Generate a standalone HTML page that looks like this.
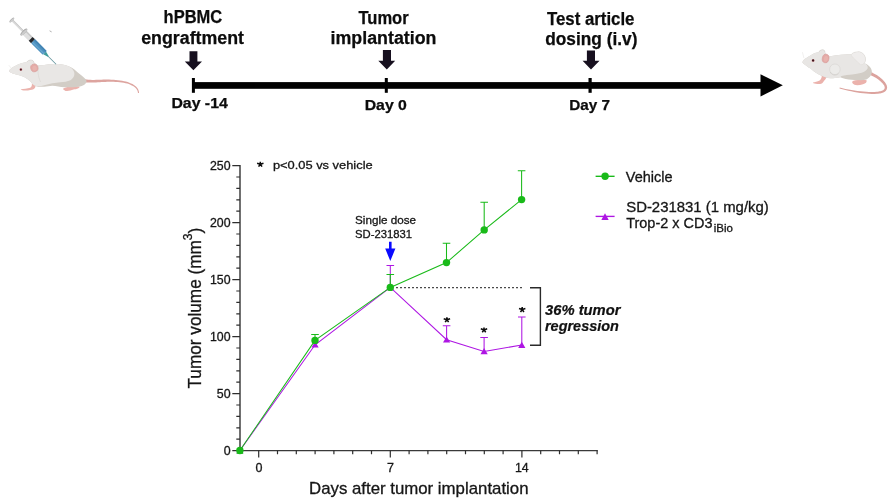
<!DOCTYPE html>
<html>
<head>
<meta charset="utf-8">
<title>Study design and tumor volume</title>
<style>
html,body{margin:0;padding:0;background:#fff;}
body{width:895px;height:504px;overflow:hidden;font-family:"Liberation Sans",sans-serif;}
svg{display:block;position:absolute;left:0;top:0;will-change:transform;opacity:0.999;}
text{font-family:"Liberation Sans",sans-serif;}
.tl{font-weight:bold;fill:#0c0c0c;stroke:#0c0c0c;stroke-width:0.25px;}
.ax{fill:#161616;stroke:#161616;stroke-width:0.3px;}
.bi{font-weight:bold;font-style:italic;fill:#111;stroke:#111;stroke-width:0.2px;}
</style>
</head>
<body>
<svg width="895" height="504" viewBox="0 0 895 504">
<rect width="895" height="504" fill="#fff"/>

<!-- ===== timeline ===== -->
<g id="timeline">
  <rect x="192" y="82.1" width="570" height="6.7" fill="#000"/>
  <polygon points="760.5,74.3 782.8,85.3 760.5,96.4" fill="#000"/>
  <rect x="191.9" y="78" width="3" height="14.8" fill="#000"/>
  <rect x="384.8" y="78" width="3" height="14.8" fill="#000"/>
  <rect x="588.5" y="78" width="3.2" height="14.8" fill="#000"/>
  <polygon points="189.5,51.2 197.4,51.2 197.4,61.4 202,61.4 193.4,70.2 184.8,61.4 189.5,61.4" fill="#17101f"/>
  <polygon points="382.9,50 391,50 391,60.7 395.2,60.7 386.8,69.5 378.3,60.7 382.9,60.7" fill="#17101f"/>
  <polygon points="586.9,50.5 595,50.5 595,60.7 599.5,60.7 591,69.5 582.6,60.7 586.9,60.7" fill="#17101f"/>
  <text class="tl" x="163.6" y="23.4" font-size="18" textLength="58.6" lengthAdjust="spacingAndGlyphs">hPBMC</text>
  <text class="tl" x="141.2" y="44.2" font-size="18" textLength="102.8" lengthAdjust="spacingAndGlyphs">engraftment</text>
  <text class="tl" x="358.4" y="23.5" font-size="18" textLength="50.3" lengthAdjust="spacingAndGlyphs">Tumor</text>
  <text class="tl" x="330.5" y="44.4" font-size="18" textLength="106" lengthAdjust="spacingAndGlyphs">implantation</text>
  <text class="tl" x="546.9" y="25" font-size="18" textLength="87.6" lengthAdjust="spacingAndGlyphs">Test article</text>
  <text class="tl" x="545.2" y="45.2" font-size="18" textLength="92.2" lengthAdjust="spacingAndGlyphs">dosing (i.v)</text>
  <text class="tl" x="171.4" y="108.2" font-size="14.5" textLength="56.4" lengthAdjust="spacingAndGlyphs">Day -14</text>
  <text class="tl" x="364.7" y="109.8" font-size="14.5" textLength="42.2" lengthAdjust="spacingAndGlyphs">Day 0</text>
  <text class="tl" x="569.3" y="109.8" font-size="14.5" textLength="40.8" lengthAdjust="spacingAndGlyphs">Day 7</text>
</g>

<!-- ===== chart ===== -->
<g id="chart">
  <g stroke="#3a3a3a" stroke-width="1.45" fill="none">
    <path d="M240,165 V451.2"/>
    <path d="M239.3,450.6 H597.8" stroke-width="1.3"/>
  </g>
  <g stroke="#2e2e2e" stroke-width="1.2" fill="none"><path d="M232.3,450.6 H240 M236.3,439.2 H240 M236.3,427.8 H240 M236.3,416.4 H240 M236.3,405.0 H240 M232.3,393.6 H240 M236.3,382.2 H240 M236.3,370.8 H240 M236.3,359.4 H240 M236.3,348.0 H240 M232.3,336.6 H240 M236.3,325.2 H240 M236.3,313.8 H240 M236.3,302.4 H240 M236.3,291.0 H240 M232.3,279.6 H240 M236.3,268.2 H240 M236.3,256.8 H240 M236.3,245.4 H240 M236.3,234.0 H240 M232.3,222.6 H240 M236.3,211.2 H240 M236.3,199.8 H240 M236.3,188.4 H240 M236.3,177.0 H240 M232.3,165.6 H240"/></g>
  <g stroke="#2e2e2e" stroke-width="1.2" fill="none"><path d="M258.7,450.6 V457.4 M277.5,450.6 V454.3 M296.3,450.6 V454.3 M315.1,450.6 V454.3 M333.9,450.6 V454.3 M352.7,450.6 V454.3 M371.5,450.6 V454.3 M390.3,450.6 V457.4 M409.1,450.6 V454.3 M427.9,450.6 V454.3 M446.7,450.6 V454.3 M465.5,450.6 V454.3 M484.3,450.6 V454.3 M503.1,450.6 V454.3 M521.9,450.6 V457.4 M540.7,450.6 V454.3 M559.5,450.6 V454.3 M578.3,450.6 V454.3 M597.1,450.6 V454.3"/></g>

  <g class="ax" font-size="12.5" text-anchor="end">
    <text x="230.6" y="169.9" textLength="20.6" lengthAdjust="spacingAndGlyphs">250</text>
    <text x="230.6" y="226.8" textLength="20.6" lengthAdjust="spacingAndGlyphs">200</text>
    <text x="230.6" y="283.7" textLength="20.6" lengthAdjust="spacingAndGlyphs">150</text>
    <text x="230.6" y="340.8" textLength="20.6" lengthAdjust="spacingAndGlyphs">100</text>
    <text x="230.6" y="397.8" textLength="13.8" lengthAdjust="spacingAndGlyphs">50</text>
    <text x="230.6" y="455.1" textLength="6.9" lengthAdjust="spacingAndGlyphs">0</text>
  </g>
  <g class="ax" font-size="12.5" text-anchor="middle">
    <text x="258.9" y="472.2">0</text>
    <text x="390.4" y="472.2">7</text>
    <text x="521.8" y="472.2" textLength="13.8" lengthAdjust="spacingAndGlyphs">14</text>
  </g>
  <text class="ax" x="309" y="494.2" font-size="16.4" textLength="219.5" lengthAdjust="spacingAndGlyphs">Days after tumor implantation</text>
  <text class="ax" transform="translate(201,388.5) rotate(-90)" font-size="17.6" textLength="160.8" lengthAdjust="spacingAndGlyphs">Tumor volume (mm<tspan font-size="12.4" dy="-8.6">3</tspan><tspan dy="8.6">)</tspan></text>

  <path d="M260.3,164.2 L260.30,161.70 M260.3,164.2 L263.49,163.16 M260.3,164.2 L262.03,166.59 M260.3,164.2 L258.57,166.59 M260.3,164.2 L257.11,163.16" stroke="#0d0d0d" stroke-width="1.55" fill="none"/>
  <text class="ax" x="272.9" y="169.2" font-size="11.6" textLength="99.8" lengthAdjust="spacingAndGlyphs">p&lt;0.05 vs vehicle</text>

  <text class="ax" x="355.1" y="224" font-size="11.2" textLength="60.9" lengthAdjust="spacingAndGlyphs">Single dose</text>
  <text class="ax" x="355.1" y="238.2" font-size="11.2" textLength="57" lengthAdjust="spacingAndGlyphs">SD-231831</text>
  <polygon points="389,241.7 391.6,241.7 391.6,248.6 395.4,248.6 390.3,261 385.2,248.6 389,248.6" fill="#0a0aff"/>

  <path d="M396,287.7 H523" stroke="#4a4a4a" stroke-width="1.2" stroke-dasharray="2 2" fill="none"/>
  <path d="M530,287.8 H540.4 V345.2 H530" stroke="#2a2a2a" stroke-width="1.4" fill="none"/>
  <text class="bi" x="545" y="314.6" font-size="14" textLength="75.5" lengthAdjust="spacingAndGlyphs">36% tumor</text>
  <text class="bi" x="545" y="331" font-size="14" textLength="73.9" lengthAdjust="spacingAndGlyphs">regression</text>

  <g stroke="#ae16e3" stroke-width="1.05" fill="none">
<polyline points="239.9,450.5 315.1,344.8 390.3,287.4 446.6,339.7 484.1,351.4 521.8,345.1"/>
<path d="M390.3,287.4 V265.5 M386.5,265.5 h7.6"/>
<path d="M446.6,339.7 V325.7 M442.8,325.7 h7.6"/>
<path d="M484.1,351.4 V337.5 M480.3,337.5 h7.6"/>
<path d="M521.8,345.1 V316.9 M518.0,316.9 h7.6"/>
</g>
<g fill="#ae16e3">
<polygon points="239.9,447.2 243.5,453.3 236.3,453.3"/>
<polygon points="315.1,341.5 318.7,347.6 311.5,347.6"/>
<polygon points="390.3,284.1 393.9,290.2 386.7,290.2"/>
<polygon points="446.6,336.4 450.2,342.5 443.0,342.5"/>
<polygon points="484.1,348.1 487.7,354.2 480.5,354.2"/>
<polygon points="521.8,341.8 525.4,347.9 518.2,347.9"/>
</g>
  <g stroke="#19ba19" stroke-width="1.05" fill="none">
<polyline points="239.9,450.5 315.0,340.4 390.3,287.4 446.5,262.6 484.2,229.9 521.6,199.6"/>
<path d="M315.0,340.4 V334.5 M311.2,334.5 h7.6"/>
<path d="M390.3,287.4 V274.4 M386.5,274.4 h7.6"/>
<path d="M446.5,262.6 V243.3 M442.7,243.3 h7.6"/>
<path d="M484.2,229.9 V202.3 M480.4,202.3 h7.6"/>
<path d="M521.6,199.6 V170.8 M517.8,170.8 h7.6"/>
</g>
<g fill="#19ba19">
<circle cx="239.9" cy="450.5" r="3.7"/>
<circle cx="315.0" cy="340.4" r="3.7"/>
<circle cx="390.3" cy="287.4" r="3.7"/>
<circle cx="446.5" cy="262.6" r="3.7"/>
<circle cx="484.2" cy="229.9" r="3.7"/>
<circle cx="521.6" cy="199.6" r="3.7"/>
</g>
  <polygon points="239.9,448 243.4,453.7 236.4,453.7" fill="#19ba19"/>

  <path d="M446.9,319.7 L446.90,317.20 M446.9,319.7 L450.09,318.66 M446.9,319.7 L448.63,322.09 M446.9,319.7 L445.17,322.09 M446.9,319.7 L443.71,318.66" stroke="#0d0d0d" stroke-width="1.55" fill="none"/>
  <path d="M484.0,329.9 L484.00,327.40 M484.0,329.9 L487.19,328.86 M484.0,329.9 L485.73,332.29 M484.0,329.9 L482.27,332.29 M484.0,329.9 L480.81,328.86" stroke="#0d0d0d" stroke-width="1.55" fill="none"/>
  <path d="M522.2,309.6 L522.20,307.10 M522.2,309.6 L525.39,308.56 M522.2,309.6 L523.93,311.99 M522.2,309.6 L520.47,311.99 M522.2,309.6 L519.01,308.56" stroke="#0d0d0d" stroke-width="1.55" fill="none"/>

  <path d="M595.6,176.3 H614.6" stroke="#19ba19" stroke-width="1.35"/>
  <circle cx="605.1" cy="176.3" r="3.7" fill="#19ba19"/>
  <text class="ax" x="625.8" y="181.5" font-size="14.6" textLength="46.7" lengthAdjust="spacingAndGlyphs">Vehicle</text>
  <path d="M595.6,216.4 H614.6" stroke="#ae16e3" stroke-width="1.35"/>
  <polygon points="605,213.2 608.7,219.9 601.3,219.9" fill="#ae16e3"/>
  <text class="ax" x="626.2" y="211.7" font-size="14.6" textLength="142.6" lengthAdjust="spacingAndGlyphs">SD-231831 (1 mg/kg)</text>
  <text class="ax" x="626.2" y="228.4" font-size="14.6" textLength="86.3" lengthAdjust="spacingAndGlyphs">Trop-2 x CD3</text>
  <text class="ax" x="713.8" y="232" font-size="10.5" textLength="19.1" lengthAdjust="spacingAndGlyphs">iBio</text>
</g>

<!-- ===== mice ===== -->
<g id="mouseL">
  <!-- tail -->
  <path d="M84.4,82.3 L86.3,82.4 L88.3,82.5 L90.3,82.6 L92.2,82.5 L94.1,82.5 L96.0,82.4 L97.9,82.3 L99.8,82.2 L101.7,82.1 L103.5,82.0 L105.3,81.9 L107.2,81.8 L109.0,81.8 L111.3,81.8 L113.5,81.8 L115.7,81.9 L117.8,82.1 L119.8,82.3 L121.8,82.5 L123.7,82.8 L125.6,83.2 L127.3,83.6 L128.9,84.1 L130.4,84.7 L131.8,85.4 L133.1,86.1 L133.8,86.6 L134.5,87.0 L135.1,87.5 L135.6,88.0 L136.1,88.5 L136.5,89.0 L136.8,89.5 L137.1,90.1 L137.4,90.6 L137.6,91.2 L137.8,91.8 L137.9,92.4 L138.0,93.1 L139.0,92.9 L139.0,92.2 L138.9,91.5 L138.7,90.9 L138.5,90.2 L138.2,89.5 L137.9,88.9 L137.5,88.3 L137.0,87.7 L136.5,87.1 L135.9,86.6 L135.3,86.0 L134.6,85.5 L133.9,84.9 L132.5,84.1 L131.0,83.4 L129.4,82.7 L127.7,82.1 L125.9,81.6 L124.1,81.2 L122.1,80.8 L120.1,80.5 L118.0,80.2 L115.8,80.0 L113.6,79.8 L111.3,79.7 L109.0,79.6 L107.1,79.6 L105.3,79.6 L103.4,79.6 L101.5,79.7 L99.7,79.7 L97.8,79.8 L96.0,79.8 L94.1,79.9 L92.2,79.9 L90.3,79.8 L88.5,79.7 L86.6,79.5 L84.6,79.3 Z" fill="#dda49f"/>
  <!-- hind foot -->
  <path d="M63.2,88.6 C65.5,86.8 72,85.5 79.6,86.6 C79.8,88.3 77,89.3 73.5,89.6 C71,90.8 67.5,91.4 65.5,90.9 C64,90.4 62.8,89.6 63.2,88.6 Z" fill="#ebb3ad"/>
  <!-- front leg -->
  <path d="M31.8,83.5 C32.2,85.4 31.6,86.8 30.2,87.7 C27.5,88.6 23.4,88.7 20.7,89.3 C21.2,90.5 24.6,90.8 28,90.4 C31,90.2 33.5,89.6 34.4,88.6 C35.4,87.5 35.8,86.2 35.4,84.8 Z" fill="#ebb3ad"/>
  <!-- body (shadow tone) -->
  <path d="M9,70.6 C11,68.2 13,66.9 15.1,66.1 C17.5,64.6 20,63.6 22.1,63.1 C23.8,62.6 25.4,62.3 26.6,62.1 C27.2,61.2 28,60.6 29.1,60.4 C30.4,59.9 31.8,59.9 32.7,60.5 C33.6,61.3 34.1,62.2 34.2,63.1 C35.5,64 36.8,64.9 38.2,65.5 C40.2,65.3 42.2,65.2 44.2,65.1 C47.5,64.6 51,64.2 54.3,64.1 C57,64.1 59.8,64.2 62.3,64.6 C65.2,65.1 68,66 70.4,67.1 C73.4,68.8 76.2,71 78.4,73.1 C80.6,74.7 82.7,76.4 84.4,78.1 C85.5,79.1 86.3,80.1 86.5,81.2 C86.4,82.9 85.3,84.2 83.4,85.2 C81.9,86 80.2,86.5 78.4,86.7 C73.8,87.3 69,87.4 64.3,87.2 C60.2,86.9 56.3,85.9 52.3,85.7 C49.6,85.8 47,86.5 44.2,86.7 C42.2,86.8 40.2,86.8 38.2,86.7 C36.6,86.5 35.2,86 34.2,85.2 C32.9,84.4 31.9,83.4 31.2,82.2 C29,80.2 26.6,78.4 24.1,77.1 C21.5,76 18.8,75.2 16.1,74.6 C14,74.1 12,73.5 10.5,72.6 C9.4,72.1 8.7,71.4 9,70.6 Z" fill="#d2cdc6"/>
  <!-- body (light tone) -->
  <path d="M9,70.6 C11,68.2 13,66.9 15.1,66.1 C17.5,64.6 20,63.6 22.1,63.1 C23.8,62.6 25.4,62.3 26.6,62.1 C27.2,61.2 28,60.6 29.1,60.4 C30.4,59.9 31.8,59.9 32.7,60.5 C33.6,61.3 34.1,62.2 34.2,63.1 C35.5,64 36.8,64.9 38.2,65.5 C40.2,65.3 42.2,65.2 44.2,65.1 C47.5,64.6 51,64.2 54.3,64.1 C57,64.1 59.8,64.2 62.3,64.6 C65,65 67.5,65.8 69.5,66.8 C72.5,68.8 74.6,71.2 74.4,74.1 C74.3,76.8 72.8,78.9 70.4,80.2 C67.4,81.6 63.8,82 60.3,82.2 C57.6,82.5 55,82.8 52.3,83.2 C49.5,83.7 46.8,84.5 44.2,85.2 C41.8,85.8 39.5,86.2 37.5,86.1 C35.8,85.9 34.8,85.5 34.2,85.2 C32.9,84.4 31.9,83.4 31.2,82.2 C29,80.2 26.6,78.4 24.1,77.1 C21.5,76 18.8,75.2 16.1,74.6 C14,74.1 12,73.5 10.5,72.6 C9.4,72.1 8.7,71.4 9,70.6 Z" fill="#e9e7e5"/>
  <!-- shoulder crease -->
  <path d="M38.5,66 C37.5,70 37.8,76 40.5,82" stroke="#dcd9d6" stroke-width="0.8" fill="none"/>
  <!-- ear -->
  <path d="M27,62 C27.6,60.9 28.4,60.5 29.3,60.3 C30.6,59.8 31.9,59.9 32.8,60.6 C33.6,61.3 34,62.2 34.1,63" stroke="#d5d2cf" stroke-width="0.6" fill="none"/>
  <ellipse cx="34.3" cy="67.9" rx="3.6" ry="3.9" fill="#e4aaa6" stroke="#d99f9b" stroke-width="0.6" transform="rotate(-15 34.3 67.9)"/>
  <ellipse cx="34.6" cy="68.2" rx="2.2" ry="2.5" fill="#e8b4af" transform="rotate(-15 34.6 68.2)"/>
  <!-- eye -->
  <circle cx="20.9" cy="69.6" r="1.5" fill="#e0a9a9"/>
  <circle cx="20.9" cy="69.6" r="1.05" fill="#4a1620"/>
  <!-- whisker -->
  <path d="M8.8,65.2 L11.6,68.6" stroke="#e4e2e0" stroke-width="0.5"/>
  <!-- syringe -->
  <g transform="translate(11.8,20) rotate(45)">
    <rect x="51" y="-0.4" width="11.6" height="0.8" fill="#5f9098"/>
    <polygon points="46.4,-1.9 51.5,-0.6 51.5,0.6 46.4,1.9" fill="#3f9c9c"/>
    <rect x="0" y="-1.15" width="18" height="2.3" fill="#dadada"/>
    <rect x="0" y="-1.15" width="18" height="0.7" fill="#c6c6c6"/>
    <ellipse cx="0" cy="0" rx="1.2" ry="3.2" fill="#b4b4b4"/>
    <ellipse cx="0.4" cy="0" rx="0.8" ry="2.8" fill="#d0d0d0"/>
    <rect x="18" y="-2.75" width="9" height="5.5" fill="#e0e0e0"/>
    <rect x="18" y="-2.75" width="9" height="1.5" fill="#c8c8c8"/>
    <rect x="26.7" y="-2.75" width="3.4" height="5.5" fill="#25272a"/>
    <rect x="30.1" y="-2.75" width="16.4" height="5.5" rx="0.7" fill="#4f92c0"/>
    <rect x="30.1" y="-2.75" width="16.4" height="1.5" fill="#4384b3"/>
    <rect x="30.1" y="0.5" width="16.4" height="1.1" fill="#6ba8d0"/>
    <ellipse cx="17" cy="0" rx="1.6" ry="4.6" fill="#a6a6a6"/>
    <ellipse cx="17.5" cy="0" rx="1.1" ry="4.2" fill="#cbcbcb"/>
  </g>
  <path d="M49.6,30.8 L51.6,31.9" stroke="#9a9a9a" stroke-width="0.8"/>
</g>

<g id="mouseR">
  <!-- tail -->
  <path d="M868.8,74.4 L870.1,75.0 L871.2,75.5 L872.3,76.0 L873.4,76.5 L874.3,77.0 L875.2,77.5 L876.1,78.0 L876.9,78.5 L877.6,79.0 L878.3,79.5 L878.9,80.0 L879.5,80.4 L880.1,81.0 L880.9,81.7 L881.6,82.4 L882.3,83.1 L882.8,83.7 L883.4,84.4 L883.8,85.0 L884.2,85.6 L884.4,86.2 L884.6,86.7 L884.7,87.2 L884.7,87.7 L884.7,88.1 L884.5,88.5 L884.4,88.9 L884.1,89.3 L883.8,89.6 L883.5,89.9 L883.0,90.2 L882.5,90.5 L881.9,90.7 L881.2,90.9 L880.5,91.2 L879.7,91.3 L878.8,91.5 L877.9,91.7 L876.9,91.8 L874.4,92.0 L871.7,92.0 L869.0,92.0 L866.2,91.8 L863.3,91.6 L860.4,91.3 L857.4,91.0 L854.5,90.5 L851.5,90.0 L848.5,89.5 L845.5,88.9 L842.6,88.3 L839.7,87.6 L839.5,88.6 L842.4,89.3 L845.3,90.0 L848.3,90.7 L851.2,91.3 L854.2,91.9 L857.2,92.4 L860.2,92.9 L863.2,93.3 L866.1,93.6 L868.9,93.8 L871.7,93.9 L874.4,93.9 L877.1,93.8 L878.1,93.7 L879.1,93.6 L880.1,93.4 L881.0,93.2 L881.8,93.0 L882.6,92.8 L883.4,92.5 L884.1,92.1 L884.8,91.7 L885.3,91.3 L885.9,90.7 L886.3,90.1 L886.7,89.5 L886.9,88.7 L887.1,87.8 L887.1,87.0 L886.9,86.2 L886.7,85.3 L886.3,84.5 L885.9,83.7 L885.4,82.9 L884.8,82.1 L884.2,81.4 L883.4,80.6 L882.7,79.8 L881.9,79.0 L881.3,78.5 L880.6,77.9 L879.9,77.3 L879.2,76.7 L878.4,76.2 L877.5,75.6 L876.7,75.1 L875.7,74.5 L874.7,74.0 L873.7,73.4 L872.6,72.8 L871.4,72.2 L870.2,71.6 Z" fill="#dca39e"/>
  <!-- hind foot -->
  <path d="M852.3,81.6 C854,80 860,79.2 866.6,80.2 C867,82 865.8,83.6 863,84.2 C860,85.2 856.5,85.4 854.5,84.8 C852.8,84.2 851.8,82.8 852.3,81.6 Z" fill="#ebb2ac"/>
  <!-- front leg -->
  <path d="M821.5,74.5 C822.2,77 821.5,79 819.6,80.4 C817.5,81.6 814.6,81.8 812.9,82.6 C813.3,83.8 816,84.2 818.6,84 C820.6,83.9 822.1,83.4 822.9,82.4 C824.6,80.4 826.2,78.6 826.8,76.6 Z" fill="#ebb2ac"/>
  <!-- body shadow tone -->
  <path d="M802.4,62 C803.4,60 804.6,59 806,58.3 C807.4,57 809,56 810.5,55.4 C812,54.4 813.6,53.6 815,53.1 C816.4,52.5 817.7,52.1 818.8,51.9 C819.3,51 820,50.4 821,50.2 C822,49.7 823,49.7 823.7,50 C824.5,50.6 824.9,51.3 824.9,52.2 C825.6,53.4 827.4,55.4 829.5,56.4 C832,55.9 834.4,55.5 836.7,55.3 C839.6,54.9 842.4,54.6 845,54.5 C847,54.4 849,54.3 851,54.3 C851.3,54.1 851.6,53.9 852,53.7 C853,53 854,52.5 855,52.2 C856.4,51.8 857.9,51.6 859.3,51.7 C860.7,52 862,52.6 863,53.5 C864,54.5 864.8,55.7 865.2,57 C865.6,58.2 865.7,59.4 865.5,60.5 C865.3,61.6 864.8,62.7 864,63.5 C864.9,63.4 865.7,63.6 866.4,64 C867.6,64.7 868.7,65.5 869.5,66.5 C870.7,67.8 871.6,69.3 871.8,71 C872,72.4 871.7,73.8 871,75 C870.4,76.2 869.6,77.2 868.5,78 C867.9,78.6 867.2,79.1 866.4,79.5 C864.4,80 862.2,80.3 860,80.2 C856.2,80.2 852.4,80 848.6,79.5 C846.7,79.2 844.8,78.8 843,78.3 C842,78 841.1,77.6 840.2,77.2 C838.5,77.6 836.7,77.9 835,78 C833.6,78.2 832.1,78.3 830.7,78.3 C828.7,78.1 826.7,77.6 824.8,76.9 C823.5,76.5 822.2,76 821,75.5 C820.2,75.2 819.5,74.9 818.8,74.5 C817.1,73.6 815.5,72.6 814,71.5 C812.8,70.6 811.6,69.6 810.5,68.6 C808.9,67.7 807.4,66.7 806,65.5 C805,64.9 804.1,64.3 803.3,63.5 C802.7,63.1 802.3,62.6 802.4,62 Z" fill="#d2cdc6"/>
  <!-- body light tone -->
  <path d="M802.4,62 C803.4,60 804.6,59 806,58.3 C807.4,57 809,56 810.5,55.4 C812,54.4 813.6,53.6 815,53.1 C816.4,52.5 817.7,52.1 818.8,51.9 C819.3,51 820,50.4 821,50.2 C822,49.7 823,49.7 823.7,50 C824.5,50.6 824.9,51.3 824.9,52.2 C825.6,53.4 827.4,55.4 829.5,56.4 C832,55.9 834.4,55.5 836.7,55.3 C839.6,54.9 842.4,54.6 845,54.5 C847,54.4 849,54.3 851,54.3 C855,55.5 861,59 866.4,64.6 C867.6,66 868,67.4 867.6,68.6 C866.6,70.6 864.4,71.9 861.7,72.7 C858.6,73.6 855.4,74.1 852.1,74.5 C848.6,74.9 845,75.3 841.4,75.9 C841,76.3 840.6,76.8 840.2,77.2 C838.5,77.6 836.7,77.9 835,78 C833.6,78.2 832.1,78.3 830.7,78.3 C828.7,78.1 826.7,77.6 824.8,76.9 C823.5,76.5 822.2,76 821,75.5 C820.2,75.2 819.5,74.9 818.8,74.5 C817.1,73.6 815.5,72.6 814,71.5 C812.8,70.6 811.6,69.6 810.5,68.6 C808.9,67.7 807.4,66.7 806,65.5 C805,64.9 804.1,64.3 803.3,63.5 C802.7,63.1 802.3,62.6 802.4,62 Z" fill="#e8e6e4"/>
  <!-- haunch -->
  <path d="M851,54.8 C852,53.4 853.4,52.6 855,52.2 C856.4,51.8 857.9,51.6 859.3,51.7 C860.7,52 862,52.6 863,53.5 C864,54.5 864.8,55.7 865.2,57 C865.6,58.2 865.7,59.4 865.5,60.5 C865.3,61.8 864.6,63 863.6,63.9 C862.6,64.7 861.6,65 860.6,64.8 C858.6,63 856.5,61 854.5,59 C853,57.6 851.6,56.2 851,54.8 Z" fill="#efedec" stroke="#dddad7" stroke-width="0.5"/>
  <!-- tumor -->
  <circle cx="834.9" cy="69.3" r="5.3" fill="#ecebe9" stroke="#dbd8d5" stroke-width="0.8"/>
  <path d="M830.2,72 C831.5,75 835.5,76.2 838.6,73.6" stroke="#d2cfcb" stroke-width="0.8" fill="none"/>
  <!-- ear -->
  <path d="M819,51.8 C819.5,50.9 820.2,50.4 821,50.1 C822,49.6 823,49.6 823.8,50 C824.6,50.6 825,51.4 825,52.3" stroke="#d5d2cf" stroke-width="0.6" fill="none"/>
  <ellipse cx="825.6" cy="58.5" rx="3.3" ry="4.3" fill="#e4a9a6" stroke="#d99e9b" stroke-width="0.6" transform="rotate(12 825.6 58.5)"/>
  <ellipse cx="825.9" cy="58.8" rx="2" ry="2.9" fill="#e8b3ae" transform="rotate(12 825.9 58.8)"/>
  <!-- eye -->
  <circle cx="813.1" cy="60.5" r="1.6" fill="#e2adad"/>
  <circle cx="813.1" cy="60.5" r="1.15" fill="#3d141c"/>
  <!-- whisker -->
  <path d="M802.4,52.2 L803.9,58" stroke="#e2e0de" stroke-width="0.5"/>
</g>

</svg>
</body>
</html>
